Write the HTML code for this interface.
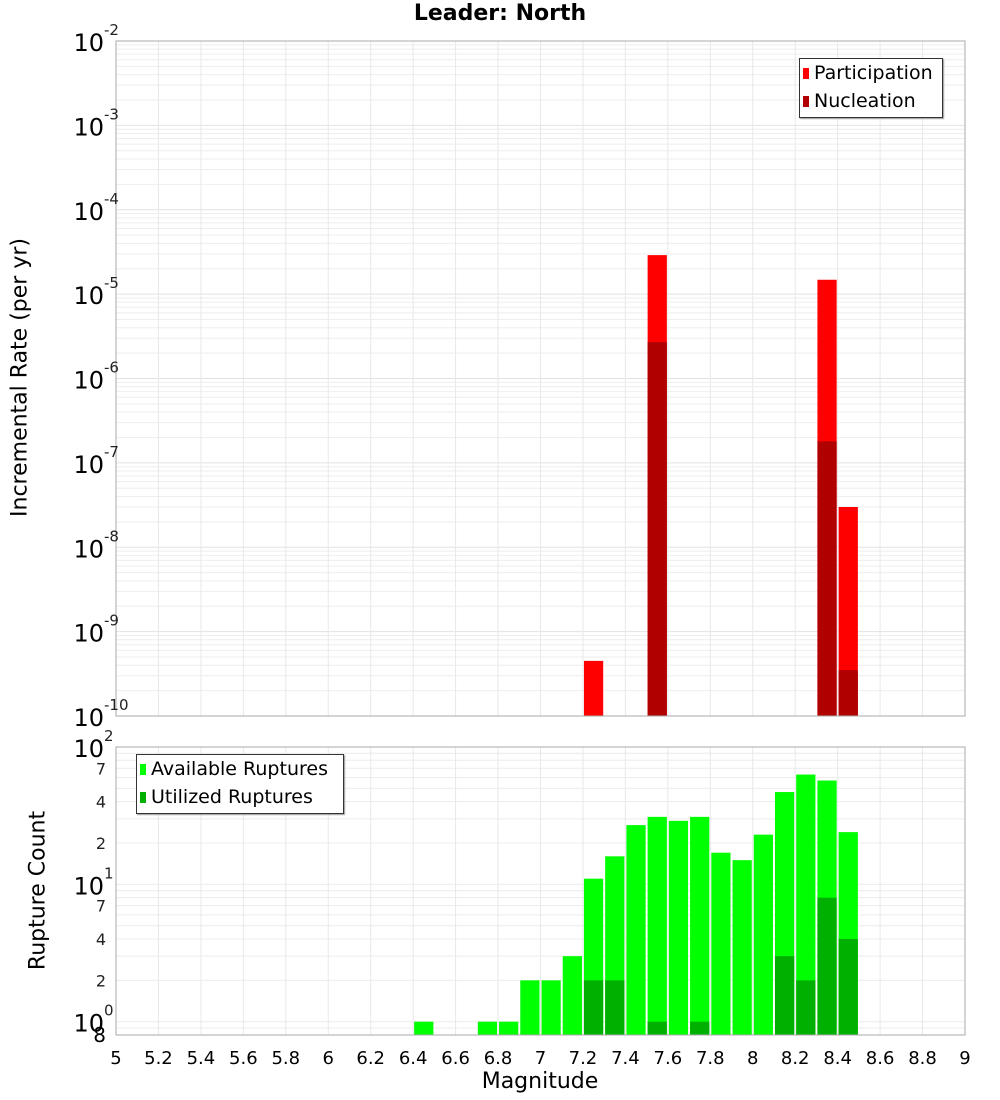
<!DOCTYPE html>
<html><head><meta charset="utf-8"><style>
body{margin:0;background:#fff;font-family:"DejaVu Sans","Liberation Sans",sans-serif}
svg{display:block}
</style></head><body>
<svg id="c" width="1000" height="1100" xmlns="http://www.w3.org/2000/svg"></svg>
<script>
const mags=[5.05,5.15,5.25,5.35,5.45,5.55,5.65,5.75,5.85,5.95,6.05,6.15,6.25,6.35,6.45,6.55,6.65,6.75,6.85,6.95,7.05,7.15,7.25,7.35,7.45,7.55,7.65,7.75,7.85,7.95,8.05,8.15,8.25,8.35,8.45];
const partMags=[7.25,7.55,8.35,8.45];
const partVals=[4.5e-10,2.9e-5,1.48e-5,3.0e-8];
const nuclMags=[7.55,8.35,8.45];
const nuclVals=[2.7e-6,1.8e-7,3.5e-10];
const availMags=[6.45,6.75,6.85,6.95,7.05,7.15,7.25,7.35,7.45,7.55,7.65,7.75,7.85,7.95,8.05,8.15,8.25,8.35,8.45];
const availVals=[1,1,1,2,2,3,11,16,27,31,29,31,17,15,23,47,63,57,24];
const usedMags=[7.25,7.35,7.55,7.75,8.15,8.25,8.35,8.45];
const usedVals=[2,2,1,1,3,2,8,4];
const xTicks=["5","5.2","5.4","5.6","5.8","6","6.2","6.4","6.6","6.8","7","7.2","7.4","7.6","7.8","8","8.2","8.4","8.6","8.8","9"];
const topExps=[-2,-3,-4,-5,-6,-7,-8,-9,-10];
const botMinor=["7","4","2"];

const svg=document.getElementById('c');
const NS="http://www.w3.org/2000/svg";
function mk(tag,a,parent){const e=document.createElementNS(NS,tag);for(const k in a)e.setAttribute(k,a[k]);(parent||svg).appendChild(e);return e;}
const X0=116,X1=965;
const x=m=>X0+(m-5)/4*(X1-X0);
const T0=41,T1=716;
const yT=v=>T0+(-2-Math.log10(v))/8*(T1-T0);
const B0=747,B1=1035;
const yB=v=>B0+(2-Math.log10(v))/(2-Math.log10(0.8))*(B1-B0);
const bw=(x(5.1)-x(5))-2;

// top plot frame + grid
mk('rect',{x:X0,y:T0,width:X1-X0,height:T1-T0,fill:'#fff'});
for(let e=-10;e<-2;e++)for(let k=1;k<10;k++){const yy=yT(k*Math.pow(10,e));const g=mk('line',{x1:X0,x2:X1,y1:yy,y2:yy,stroke:k==1?'#e2e2e2':'#eeeeee','stroke-width':1});
}
xTicks.forEach(t=>{const xx=x(+t);const g=mk('line',{x1:xx,x2:xx,y1:T0,y2:T1,stroke:'#e8e8e8'});});
// bottom grid
mk('rect',{x:X0,y:B0,width:X1-X0,height:B1-B0,fill:'#fff'});
[0.8,0.9,1,2,3,4,5,6,7,8,9,10,20,30,40,50,60,70,80,90].forEach(v=>{const yy=yB(v);const g=mk('line',{x1:X0,x2:X1,y1:yy,y2:yy,stroke:'#ececec'});});
xTicks.forEach(t=>{const xx=x(+t);const g=mk('line',{x1:xx,x2:xx,y1:B0,y2:B1,stroke:'#e8e8e8'});});

// top bars
partMags.forEach((m,i)=>{const yy=yT(partVals[i]);const r=mk('rect',{x:x(m)-bw/2,y:yy,width:bw,height:T1-yy,fill:'#ff0000'});
});
nuclMags.forEach((m,i)=>{const yy=yT(nuclVals[i]);const r=mk('rect',{x:x(m)-bw/2,y:yy,width:bw,height:T1-yy,fill:'#b00000'});
});
// bottom bars
availMags.forEach((m,i)=>{const yy=yB(availVals[i]);const r=mk('rect',{x:x(m)-bw/2,y:yy,width:bw,height:B1-yy,fill:'#00ff00'});
});
usedMags.forEach((m,i)=>{const yy=yB(usedVals[i]);const r=mk('rect',{x:x(m)-bw/2,y:yy,width:bw,height:B1-yy,fill:'#00b000'});
});

mk('rect',{x:X0,y:T0,width:X1-X0,height:T1-T0,fill:'none',stroke:'#aaa'});
mk('rect',{x:X0,y:B0,width:X1-X0,height:B1-B0,fill:'none',stroke:'#aaa'});

// top y labels
topExps.forEach(e=>{const yy=yT(Math.pow(10,e));const t=mk('text',{x:104,y:yy+10,'text-anchor':'end','font-size':24,fill:'#000'});t.textContent='10';

const s=mk('text',{x:104,y:yy-6,'font-size':15,fill:'#222'});s.textContent=String(e);});
// bottom y labels
[[100,'2'],[10,'1'],[1,'0']].forEach(([v,ex])=>{const yy=yB(v);const t=mk('text',{x:104,y:yy+10,'text-anchor':'end','font-size':24});t.textContent='10';

const s=mk('text',{x:104,y:yy-6,'font-size':15,fill:'#222'});s.textContent=ex;});
[70,40,20,7,4,2].forEach((v,i)=>{const t=mk('text',{x:106,y:yB(v)+6,'text-anchor':'end','font-size':16,fill:'#222'});t.textContent=botMinor[i%3];
});
{const t=mk('text',{x:106,y:1042,'text-anchor':'end','font-size':20});t.textContent='8';}
// x labels
xTicks.forEach(tk=>{const t=mk('text',{x:x(+tk),y:1064,'text-anchor':'middle','font-size':18});t.textContent=tk;
});
</script>
<div style="position:absolute;left:0;top:0;width:1000px;height:1100px;pointer-events:none">
<div style="position:absolute;left:0;width:1000px;top:1px;text-align:center;font-weight:bold;font-size:22px">Leader: North</div>
<div style="position:absolute;left:-160px;top:365px;width:360px;text-align:center;font-size:22px;transform:rotate(-90deg)">Incremental Rate (per yr)</div>
<div style="position:absolute;left:-62px;top:878px;width:200px;text-align:center;font-size:22px;transform:rotate(-90deg)">Rupture Count</div>
<div style="position:absolute;left:440px;width:200px;top:1069px;text-align:center;font-size:22px">Magnitude</div>
<div style="position:absolute;left:799px;top:58px;width:142px;height:58px;border:1px solid #333;background:#fff;font-size:19px;box-shadow:1px 1px 1px #999">
 <div style="position:absolute;left:3px;top:3px;white-space:nowrap"><span style="display:inline-block;width:6px;height:11px;background:#f00;margin-right:5px"></span>Participation</div>
 <div style="position:absolute;left:3px;top:31px;white-space:nowrap"><span style="display:inline-block;width:6px;height:11px;background:#b00000;margin-right:5px"></span>Nucleation</div>
</div>
<div style="position:absolute;left:136px;top:754px;width:206px;height:58px;border:1px solid #333;background:#fff;font-size:19px;box-shadow:1px 1px 1px #999">
 <div style="position:absolute;left:3px;top:3px;white-space:nowrap"><span style="display:inline-block;width:6px;height:11px;background:#0f0;margin-right:5px"></span>Available Ruptures</div>
 <div style="position:absolute;left:3px;top:31px;white-space:nowrap"><span style="display:inline-block;width:6px;height:11px;background:#00b000;margin-right:5px"></span>Utilized Ruptures</div>
</div>
</div>
</body></html>
